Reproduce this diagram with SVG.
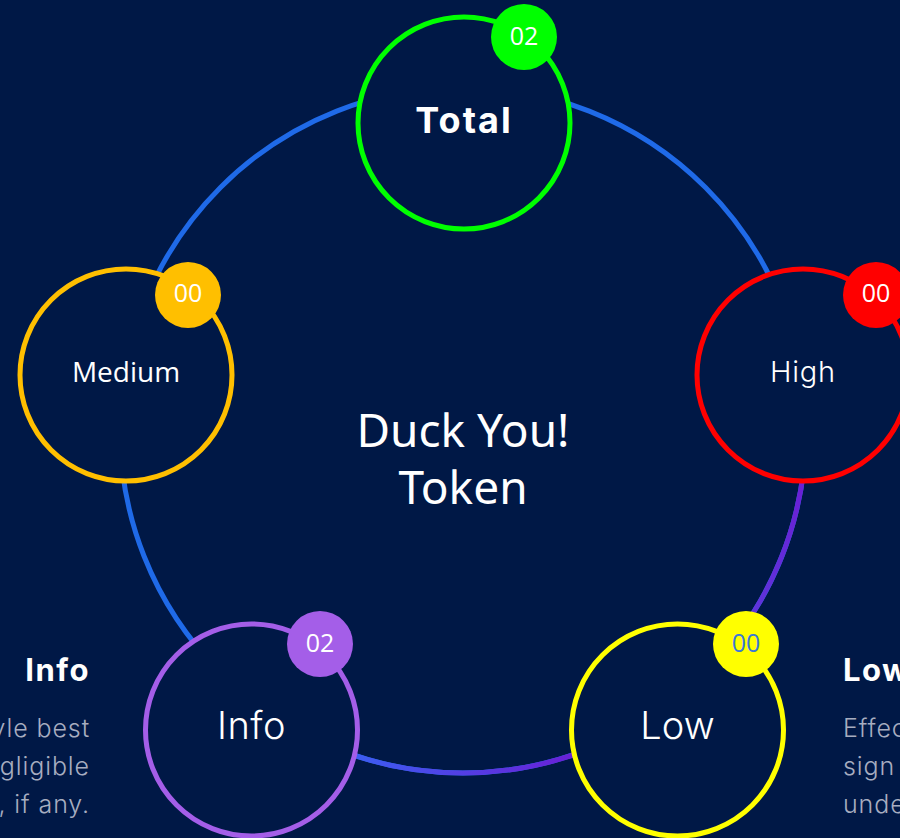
<svg xmlns="http://www.w3.org/2000/svg" width="900" height="838" viewBox="0 0 900 838">
<defs>
<linearGradient id="gBottom" gradientUnits="userSpaceOnUse" x1="357" y1="0" x2="575" y2="0">
<stop offset="0" stop-color="#3d5cf0"/>
<stop offset="1" stop-color="#6a1fd6"/>
</linearGradient>
<linearGradient id="gRight" gradientUnits="userSpaceOnUse" x1="0" y1="485" x2="0" y2="615">
<stop offset="0" stop-color="#6a1fd6"/>
<stop offset="1" stop-color="#5e34da"/>
</linearGradient>
</defs>
<style>
.ring{fill:none;stroke-width:5}
.node{fill:#001846;stroke-width:5}
.badge-t{font-family:"Open Sans","Noto Sans",sans-serif;font-size:25px;fill:#ffffff;text-anchor:middle}
.lbl{font-family:Inter,"Liberation Sans",sans-serif;fill:#ffffff;text-anchor:middle}
.side{font-family:Inter,"Liberation Sans",sans-serif;font-size:25px;font-weight:300;fill:#a7adc0;letter-spacing:0.9px}
.sideh{font-family:Inter,"Liberation Sans",sans-serif;font-size:31px;font-weight:700;fill:#ffffff;letter-spacing:1.5px}
</style>
<rect width="900" height="838" fill="#001846"/>

<g id="connectors">
<circle class="ring" cx="463" cy="430" r="343" stroke="#1f6ae8"/>
<path class="ring" d="M806,430 A343,343 0 0 1 705.5,672.5" stroke="url(#gRight)"/>
<path class="ring" d="M291.5,727 A343,343 0 0 0 634.5,727" stroke="url(#gBottom)"/>
</g>

<g id="center">
<text x="463" y="447" font-family="'Noto Sans','Open Sans',sans-serif" font-size="46" fill="#ffffff" text-anchor="middle">Duck You!</text>
<text x="463" y="504" font-family="'Noto Sans','Open Sans',sans-serif" font-size="46" fill="#ffffff" text-anchor="middle">Token</text>
</g>

<g id="node-total">
<circle class="node" cx="464" cy="123" r="106" stroke="#00ff00"/>
<text class="lbl" x="464" y="133" font-size="36" font-weight="700" letter-spacing="2">Total</text>
<circle cx="524" cy="37" r="33" fill="#00ff00"/>
<text class="badge-t" x="524" y="45">02</text>
</g>

<g id="node-medium">
<circle class="node" cx="126" cy="375" r="106" stroke="#ffbf00"/>
<text x="126" y="382" font-family="'Open Sans','Noto Sans',sans-serif" font-size="28" fill="#ffffff" text-anchor="middle">Medium</text>
<circle cx="188" cy="295" r="33" fill="#ffbf00"/>
<text class="badge-t" x="188" y="302">00</text>
</g>

<g id="node-high">
<circle class="node" cx="803" cy="375" r="106" stroke="#ff0000"/>
<text class="lbl" x="803" y="382" font-size="29" font-weight="300" letter-spacing="0.8">High</text>
<circle cx="876" cy="295" r="33" fill="#ff0000"/>
<text class="badge-t" x="876" y="302">00</text>
</g>

<g id="node-info">
<circle class="node" cx="251.5" cy="730" r="106" stroke="#a45ee8"/>
<text class="lbl" x="251.5" y="739" font-size="38" font-weight="300" letter-spacing="0.5">Info</text>
<circle cx="320" cy="644" r="33" fill="#a45ee8"/>
<text class="badge-t" x="320" y="652">02</text>
</g>

<g id="node-low">
<circle class="node" cx="677.5" cy="730" r="106" stroke="#ffff00"/>
<text class="lbl" x="677.5" y="739" font-size="38" font-weight="300">Low</text>
<circle cx="746" cy="644" r="33" fill="#ffff00"/>
<text class="badge-t" x="746" y="652" style="fill:#3a78d8">00</text>
</g>

<g id="side-info" text-anchor="end">
<text class="sideh" x="90" y="681">Info</text>
<text class="side" x="90" y="737">yle best</text>
<text class="side" x="90" y="775">gligible</text>
<text class="side" x="90" y="813">, if any.</text>
</g>

<g id="side-low">
<text class="sideh" x="843" y="681">Low</text>
<text class="side" x="843" y="737">Effec</text>
<text class="side" x="843" y="775">sign</text>
<text class="side" x="843" y="813">unde</text>
</g>
</svg>
